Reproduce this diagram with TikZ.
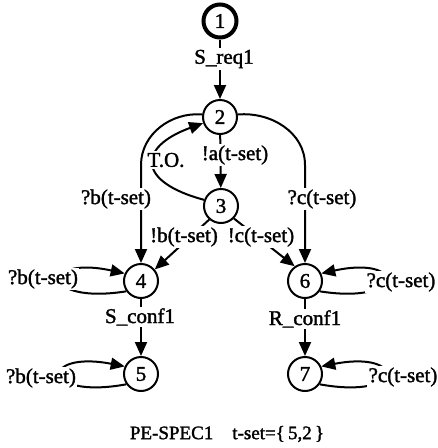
\documentclass[tikz,border=0pt]{standalone}
\usepackage{fontspec}
\setmainfont{Liberation Serif}
\newfontfamily\diagfont{Liberation Serif}[FakeBold=1.6]
\usetikzlibrary{arrows.meta}
\begin{document}
\begin{tikzpicture}[x=1pt,y=1pt,
  state/.style={circle,draw,line width=2pt,minimum size=34pt,inner sep=0pt,
    font=\diagfont\fontsize{21}{23}\selectfont},
  initstate/.style={state,line width=4pt,minimum size=33pt},
  lab/.style={fill=white,inner sep=1.5pt,font=\diagfont\fontsize{21}{23}\selectfont},
  edge/.style={line width=2pt,-{Triangle[length=14pt,width=12pt]}}]
\useasboundingbox (0,0) rectangle (438,-448);

% states
\node[initstate] (n1) at (220,-21) {1};
\node[state] (n2) at (220,-117) {2};
\node[state] (n3) at (221,-206) {3};
\node[state] (n4) at (141,-281) {4};
\node[state] (n6) at (305,-281) {6};
\node[state] (n5) at (141,-374) {5};
\node[state] (n7) at (305,-374) {7};

% transitions
\draw[edge] (n1) -- (n2);
\draw[edge] (n2) -- (n3);
\draw[edge] (n3.160) .. controls +(165:70) and +(200:70) .. (n2.200);
\draw[edge] (n2.172) to[out=175,in=90] (141,-165) -- (n4);
\draw[edge] (n2.8) to[out=5,in=90] (305,-165) -- (n6);
\draw[edge] (n3.229) -- (n4.40);
\draw[edge] (n3.316) -- (n6.125);
\draw[edge] (n4) -- (n5);
\draw[edge] (n6) -- (n7);

% self loops
\draw[edge] (n4.215) .. controls (40,-305) and (40,-255) .. (n4.155);
\draw[edge] (n6.325) .. controls (406,-305) and (406,-255) .. (n6.25);
\draw[edge] (n5.215) .. controls (40,-400) and (40,-350) .. (n5.155);
\draw[edge] (n7.325) .. controls (406,-400) and (406,-350) .. (n7.25);

% transition labels
\node[lab] (lreq) at (224,-59) {S\_req1};
\node[lab] (la) at (235,-155) {!a(t-set)};
\node[lab] (lto) at (166,-160) {T.O.};
\node[lab] (lbq) at (116,-199) {?b(t-set)};
\node[lab] (lcq) at (322,-199) {?c(t-set)};
\node[lab] (lb) at (184,-237) {!b(t-set)};
\node[lab] (lc) at (261,-237) {!c(t-set)};
\node[lab] (l4) at (43,-279) {?b(t-set)};
\node[lab] (l6) at (401,-282) {?c(t-set)};
\node[lab] (lsc) at (140,-317) {S\_conf1};
\node[lab] (lrc) at (305,-319) {R\_conf1};
\node[lab] (l5) at (41,-378) {?b(t-set)};
\node[lab] (l7) at (403,-377) {?c(t-set)};

% caption
\node[font=\diagfont\fontsize{19}{22}\selectfont] (cap) at (227,-434)
  {PE-SPEC1\quad t-set=\{\,5,2\,\}};
\end{tikzpicture}
\end{document}
